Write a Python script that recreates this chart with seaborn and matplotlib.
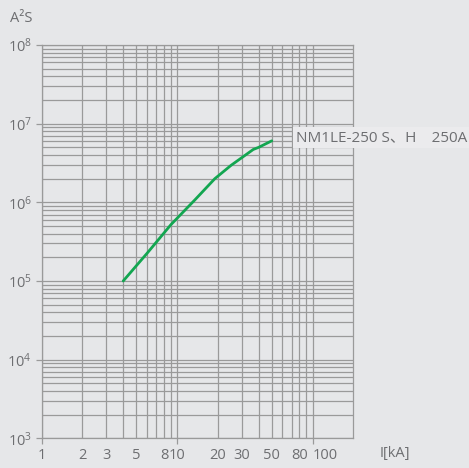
import numpy as np
import pandas as pd
import seaborn as sns
import matplotlib.pyplot as plt
from matplotlib.ticker import FixedLocator, FixedFormatter, NullFormatter

# =========================
# Data
# =========================
current_ka = [4, 6, 9, 13.5, 19, 25, 36.5, 40, 50]
i2t = [1.0e5, 2.25e5, 5.2e5, 1.07e6, 2.0e6, 2.95e6, 4.7e6, 5.0e6, 6.05e6]

x_label_ticks = [2, 3, 5, 8, 20, 30, 50, 80]
x_decades = [1, 10, 100]
y_decades = [1e3, 1e4, 1e5, 1e6, 1e7, 1e8]
curve_name = "NM1LE-250 S、H\u3000250A"

# =========================
# Style
# =========================
BG = "#e6e7e9"
GRID = "#9a9a9a"
TXT = "#6d6e71"
GREEN = "#13a651"

sns.set_style("ticks")
plt.rcParams["font.family"] = ["Open Sans", "Noto Sans CJK SC", "DejaVu Sans"]
plt.rcParams["mathtext.fontset"] = "custom"
plt.rcParams["mathtext.rm"] = "Open Sans"
plt.rcParams["mathtext.it"] = "Open Sans"

fig = plt.figure(figsize=(4.69, 4.68), dpi=100, facecolor=BG)
ax = fig.add_axes([0.0889, 0.0635, 0.6644, 0.8403])
ax.set_facecolor(BG)

df = pd.DataFrame({"I": current_ka, "I2t": i2t})
sns.lineplot(data=df, x="I", y="I2t", color=GREEN, lw=2.0, ax=ax, zorder=3)

ax.set_xscale("log")
ax.set_yscale("log")
ax.set_xlim(1, 200)
ax.set_ylim(1e3, 1e8)

# x ticks: marks only at decades, labels also at some minor positions
x_minor = [m * d for d in [1, 10, 100] for m in range(2, 10) if m * d < 200]
ax.xaxis.set_major_locator(FixedLocator(x_decades))
ax.xaxis.set_major_formatter(FixedFormatter(["1", "10", "100"]))
ax.xaxis.set_minor_locator(FixedLocator(x_minor))
ax.xaxis.set_minor_formatter(FixedFormatter(
    [str(v) if v in x_label_ticks else "" for v in x_minor]))

y_minor = [m * d for d in y_decades[:-1] for m in range(2, 10)]
ax.yaxis.set_major_locator(FixedLocator(y_decades))
ax.yaxis.set_major_formatter(FixedFormatter(
    [f"$10^{{{int(np.log10(v))}}}$" for v in y_decades]))
ax.yaxis.set_minor_locator(FixedLocator(y_minor))
ax.yaxis.set_minor_formatter(NullFormatter())

ax.tick_params(which="major", length=4, width=0.9, color=GRID,
               labelcolor=TXT, labelsize=10.5, pad=3)
ax.tick_params(which="minor", length=0, labelcolor=TXT, labelsize=10.5)
ax.tick_params(axis="x", which="minor", pad=7)
ax.tick_params(axis="x", which="major", pad=3)

# the "100" label sits just right of its grid line in the reference
fig.canvas.draw()
for lab in ax.xaxis.get_majorticklabels():
    if lab.get_text() == "100":
        lab.set_horizontalalignment("left")

ax.grid(which="both", color=GRID, lw=0.9)
for s in ax.spines.values():
    s.set_color(GRID)
    s.set_linewidth(0.9)

ax.set_xlabel("")
ax.set_ylabel("")

# Labels
fig.text(10 / 469, 1 - 18 / 468, "A²S", color=TXT, fontsize=10.5,
         ha="left", va="center")
fig.text(380 / 469, 1 - 454 / 468, "I[kA]", color=TXT, fontsize=10.5,
         ha="left", va="center")

ax.text(75, 6.7e6, curve_name, color=TXT, fontsize=11, ha="left",
        va="center", clip_on=False, zorder=4,
        bbox=dict(facecolor="#ebebed", edgecolor="none", pad=2))

fig.savefig("out.png", dpi=100, facecolor=BG)
